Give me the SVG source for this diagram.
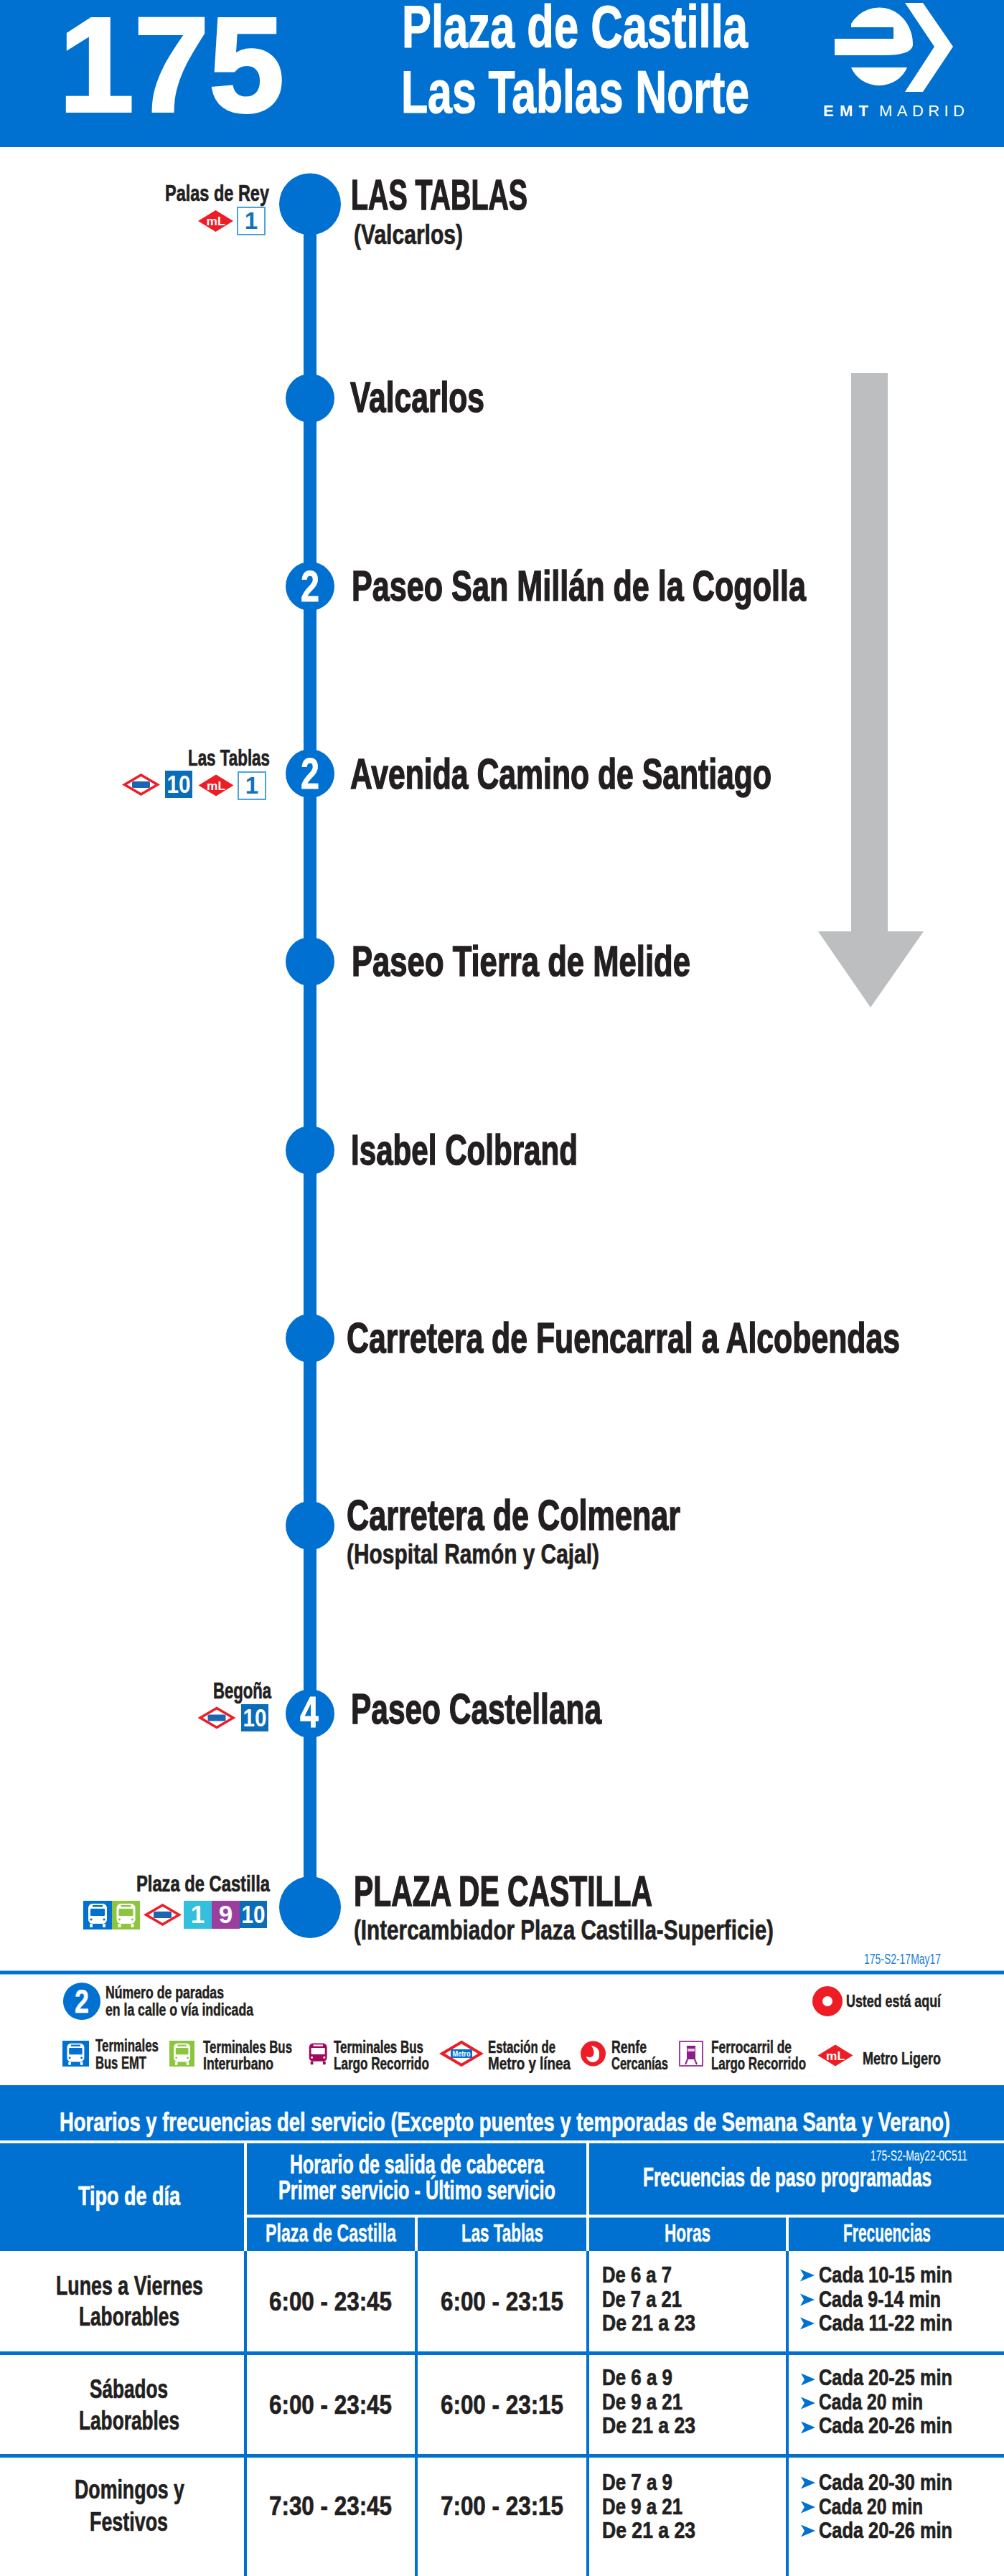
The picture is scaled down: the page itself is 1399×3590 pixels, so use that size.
<svg xmlns="http://www.w3.org/2000/svg" width="1399" height="3590" viewBox="0 0 1399 3590">
<style>
text{font-family:"Liberation Sans",Arial,sans-serif;font-weight:700;fill:#231f20;stroke:#231f20;stroke-width:.5}
.w{fill:#fff;stroke:#fff}
.f188{font-size:188px;stroke-width:4}.f84{font-size:84px;stroke-width:1.2}.f60{font-size:60px;stroke-width:1.5}.f38{font-size:38px;stroke-width:.7}.f62{font-size:62px;stroke-width:.8}
.f30{font-size:31px;stroke-width:.7}.f22{font-size:24px;stroke-width:.5}.f36{font-size:37px;stroke-width:.7}.f34{font-size:35px;stroke-width:.4}.f28{font-size:32px;stroke-width:.7}
.tag{font-size:20px;font-weight:400;stroke:none}
.route{stroke:#0070d1;stroke-width:18;fill:none}
.dot{fill:#0070d1}
.vb{stroke:#0070d1;stroke-width:4}.hb{stroke:#0070d1;stroke-width:5}.vw{stroke:#fff;stroke-width:4}
.box{fill:#fff;stroke:#4da3dc;stroke-width:2}
.digit{font-size:32px;fill:#fff;stroke:none;text-anchor:middle}
</style>
<defs>
<g id="metro"><path d="M-23 0L0-13.5 23 0 0 13.5Z" fill="#fff" stroke="#ee1c25" stroke-width="3.5"/><rect x="-12.5" y="-4.500" width="25" height="9" rx="1.500" fill="#1b66b3"/></g>
<g id="ml"><path d="M-24.500 0L0-15 24.500 0 0 15Z" fill="#ee1c25"/><text x="-13" y="6" font-size="17" class="w" style="stroke:none" textLength="26" lengthAdjust="spacingAndGlyphs">mL</text></g>
<g id="bus"><rect x="7" y="4" width="26" height="28" rx="6"/><rect x="9" y="32" width="4" height="5" rx="1"/><rect x="27" y="32" width="4" height="5" rx="1"/><rect x="10" y="11" width="20" height="10" rx="1" fill="currentColor"/><rect x="13" y="6" width="14" height="2.500" fill="currentColor"/><circle cx="11" cy="26" r="1.600" fill="currentColor"/><circle cx="29" cy="26" r="1.600" fill="currentColor"/></g>
<g id="line1"><rect x="0" y="0" width="38" height="38" class="box"/><text x="19" y="30" class="digit" style="fill:#1272b8;font-size:33px">1</text></g>
<g id="line10"><rect x="0" y="0" width="38" height="38" fill="#0b6db8"/><text x="19" y="31" class="digit" textLength="33" lengthAdjust="spacingAndGlyphs" style="font-size:35px">10</text></g>
<path id="arr" d="M0-8.500L20 0 0 8.500 5 0Z" fill="#0070d1"/>
</defs>
<rect width="1399" height="3590" fill="#fff"/>

<g id="header">
<rect width="1399" height="205" fill="#0070d1"/>
<text x="82" y="155" class="w f188" textLength="314" lengthAdjust="spacingAndGlyphs">175</text>
<text x="560" y="66" class="w f84" textLength="482" lengthAdjust="spacingAndGlyphs">Plaza de Castilla</text>
<text x="559" y="157" class="w f84" textLength="485" lengthAdjust="spacingAndGlyphs">Las Tablas Norte</text>
<g id="logo" fill="#fff">
<path d="M1261 4H1286L1328 65 1286 128H1261L1302 65Z"/>
<path d="M1186 33A47 51 0 0 1 1272 63Q1270 77 1232 77H1163V54H1245V38H1186Z"/>
<path d="M1186 94H1264A42 40 0 0 1 1186 94Z"/>
<text x="1147" y="162" font-size="22" class="w" style="stroke:none" textLength="63" lengthAdjust="spacing">EMT</text>
<text x="1225" y="162" font-size="22" class="w" style="font-weight:400;stroke:none" textLength="119" lengthAdjust="spacing">MADRID</text>
</g>
</g>

<g id="connectors">
<line class="route" x1="432" y1="284" x2="432" y2="2658"/>
<path id="direction-arrow" d="M1186 520H1237V1298H1287L1213 1404 1140 1298H1186Z" fill="#bcbec0"/>
</g>

<g id="stop-las-tablas">
<circle class="dot" cx="432" cy="284.500" r="43"/>
<text x="489" y="292" class="f60" textLength="246" lengthAdjust="spacingAndGlyphs">LAS TABLAS</text>
<text x="493" y="340" class="f38" textLength="152" lengthAdjust="spacingAndGlyphs">(Valcarlos)</text>
<text x="230" y="280" class="f30" textLength="145" lengthAdjust="spacingAndGlyphs">Palas de Rey</text>
<use href="#ml" transform="translate(300.500 308)"/>
<use href="#line1" transform="translate(331 289)"/>
</g>
<g id="stop-valcarlos">
<circle class="dot" cx="432" cy="555" r="34"/>
<text x="488" y="574" class="f60" textLength="187" lengthAdjust="spacingAndGlyphs">Valcarlos</text>
</g>
<g id="stop-san-millan">
<circle class="dot" cx="432" cy="817" r="34"/>
<text x="432" y="838" class="w f62" text-anchor="middle" textLength="26" lengthAdjust="spacingAndGlyphs">2</text>
<text x="490" y="837" class="f60" textLength="633" lengthAdjust="spacingAndGlyphs">Paseo San Millán de la Cogolla</text>
</g>
<g id="stop-camino-santiago">
<circle class="dot" cx="432" cy="1078" r="34"/>
<text x="432" y="1099" class="w f62" text-anchor="middle" textLength="26" lengthAdjust="spacingAndGlyphs">2</text>
<text x="488" y="1099" class="f60" textLength="587" lengthAdjust="spacingAndGlyphs">Avenida Camino de Santiago</text>
<text x="262" y="1067" class="f30" textLength="114" lengthAdjust="spacingAndGlyphs">Las Tablas</text>
<use href="#metro" transform="translate(196.500 1093.500)"/>
<use href="#line10" transform="translate(230 1074)"/>
<use href="#ml" transform="translate(301 1094.500)"/>
<use href="#line1" transform="translate(332 1076)"/>
</g>
<g id="stop-tierra-melide">
<circle class="dot" cx="432" cy="1340" r="34"/>
<text x="490" y="1360" class="f60" textLength="472" lengthAdjust="spacingAndGlyphs">Paseo Tierra de Melide</text>
</g>
<g id="stop-isabel-colbrand">
<circle class="dot" cx="432" cy="1603" r="34"/>
<text x="489" y="1623" class="f60" textLength="316" lengthAdjust="spacingAndGlyphs">Isabel Colbrand</text>
</g>
<g id="stop-fuencarral">
<circle class="dot" cx="432" cy="1865" r="34"/>
<text x="483" y="1885" class="f60" textLength="771" lengthAdjust="spacingAndGlyphs">Carretera de Fuencarral a Alcobendas</text>
</g>
<g id="stop-colmenar">
<circle class="dot" cx="432" cy="2126" r="34"/>
<text x="483" y="2132" class="f60" textLength="465" lengthAdjust="spacingAndGlyphs">Carretera de Colmenar</text>
<text x="483" y="2179" class="f38" textLength="352" lengthAdjust="spacingAndGlyphs">(Hospital Ramón y Cajal)</text>
</g>
<g id="stop-castellana">
<circle class="dot" cx="432" cy="2388" r="34"/>
<text x="431" y="2407" class="w f62" text-anchor="middle" textLength="26" lengthAdjust="spacingAndGlyphs">4</text>
<text x="489" y="2402" class="f60" textLength="349" lengthAdjust="spacingAndGlyphs">Paseo Castellana</text>
<text x="297" y="2367" class="f30" textLength="81" lengthAdjust="spacingAndGlyphs">Begoña</text>
<use href="#metro" transform="translate(302 2394)"/>
<use href="#line10" transform="translate(336 2375)"/>
</g>
<g id="stop-plaza-castilla">
<circle class="dot" cx="432" cy="2658" r="43"/>
<text x="493" y="2656" class="f60" textLength="416" lengthAdjust="spacingAndGlyphs">PLAZA DE CASTILLA</text>
<text x="493" y="2703" class="f38" textLength="585" lengthAdjust="spacingAndGlyphs">(Intercambiador Plaza Castilla-Superficie)</text>
<text x="190" y="2636" class="f30" textLength="186" lengthAdjust="spacingAndGlyphs">Plaza de Castilla</text>
<rect x="116" y="2649" width="40" height="40" fill="#0070d1"/>
<use href="#bus" transform="translate(116 2649)" fill="#fff" color="#0070d1"/>
<rect x="156" y="2649" width="39" height="40" fill="#8cc63f"/>
<use href="#bus" transform="translate(155.500 2649)" fill="#fff" color="#8cc63f"/>
<use href="#metro" transform="translate(226.500 2668.500)"/>
<rect x="256" y="2649" width="39" height="39" fill="#33c0dc"/>
<text x="275.500" y="2680" class="digit" style="font-size:35px">1</text>
<rect x="295" y="2649" width="39" height="39" fill="#9b3f9f"/>
<text x="314.500" y="2680" class="digit" style="font-size:35px">9</text>
<use href="#line10" transform="translate(334 2649)"/>
</g>

<g id="legend">
<text x="1204" y="2737" class="tag" style="fill:#1b7fd4" textLength="107" lengthAdjust="spacingAndGlyphs">175-S2-17May17</text>
<line class="hb" x1="0" y1="2749" x2="1399" y2="2749"/>
<g id="legend-stops">
<circle class="dot" cx="114" cy="2789" r="26"/>
<text x="114" y="2805" class="w" font-size="46" text-anchor="middle" textLength="20" lengthAdjust="spacingAndGlyphs">2</text>
<text x="147" y="2785" class="f22" textLength="165" lengthAdjust="spacingAndGlyphs">Número de paradas</text>
<text x="147" y="2809" class="f22" textLength="206" lengthAdjust="spacingAndGlyphs">en la calle o vía indicada</text>
</g>
<g id="legend-here">
<circle cx="1153" cy="2789" r="14" fill="#fff" stroke="#ee1c25" stroke-width="14"/>
<text x="1179" y="2797" class="f22" textLength="132" lengthAdjust="spacingAndGlyphs">Usted está aquí</text>
</g>
<g id="legend-emt">
<rect x="87" y="2844" width="37" height="36" fill="#0070d1"/>
<use href="#bus" transform="translate(87 2844) scale(.92)" fill="#fff" color="#0070d1"/>
<text x="133" y="2859" class="f22" textLength="88" lengthAdjust="spacingAndGlyphs">Terminales</text>
<text x="133" y="2883" class="f22" textLength="71" lengthAdjust="spacingAndGlyphs">Bus EMT</text>
</g>
<g id="legend-interurban">
<rect x="236" y="2844" width="35" height="36" fill="#8cc63f"/>
<use href="#bus" transform="translate(236 2844) scale(.88 .92)" fill="#fff" color="#8cc63f"/>
<text x="283" y="2861" class="f22" textLength="124" lengthAdjust="spacingAndGlyphs">Terminales Bus</text>
<text x="283" y="2884" class="f22" textLength="98" lengthAdjust="spacingAndGlyphs">Interurbano</text>
</g>
<g id="legend-long">
<use href="#bus" transform="translate(424 2844) scale(.96 .9)" fill="#a3085f" color="#fff"/>
<text x="465" y="2861" class="f22" textLength="125" lengthAdjust="spacingAndGlyphs">Terminales Bus</text>
<text x="465" y="2884" class="f22" textLength="133" lengthAdjust="spacingAndGlyphs">Largo Recorrido</text>
</g>
<g id="legend-metro">
<path d="M643 2846L670 2862 643 2878 616 2862Z" fill="#fff" stroke="#ee1c25" stroke-width="4"/>
<rect x="628" y="2856" width="30" height="12" rx="1.500" fill="#0070d1"/>
<text x="643" y="2866" class="w" font-size="11" style="stroke:none" text-anchor="middle" textLength="25" lengthAdjust="spacingAndGlyphs">Metro</text>
<text x="680" y="2861" class="f22" textLength="94" lengthAdjust="spacingAndGlyphs">Estación de</text>
<text x="680" y="2884" class="f22" textLength="115" lengthAdjust="spacingAndGlyphs">Metro y línea</text>
</g>
<g id="legend-renfe">
<circle cx="826.500" cy="2862" r="17.500" fill="#ee1c25"/>
<path d="M824 2851Q836 2853 835 2864A9 9 0 0 1 817 2866Q824 2869 827 2864 829 2858 824 2851Z" fill="#fff"/>
<text x="852" y="2861" class="f22" textLength="49" lengthAdjust="spacingAndGlyphs">Renfe</text>
<text x="852" y="2884" class="f22" textLength="79" lengthAdjust="spacingAndGlyphs">Cercanías</text>
</g>
<g id="legend-rail">
<rect x="947" y="2845" width="32" height="34" fill="#fff" stroke="#a1419c" stroke-width="2"/>
<path d="M957 2851H969V2870H957Z" fill="#8b1e8b"/>
<path d="M958 2855H968V2859H958Z" fill="#e6c7e6"/>
<path d="M958 2870L955 2877M968 2870L971 2877" stroke="#8b1e8b" stroke-width="2"/>
<text x="991" y="2861" class="f22" textLength="112" lengthAdjust="spacingAndGlyphs">Ferrocarril de</text>
<text x="991" y="2884" class="f22" textLength="132" lengthAdjust="spacingAndGlyphs">Largo Recorrido</text>
</g>
<g id="legend-ml">
<use href="#ml" transform="translate(1164 2864.500)"/>
<text x="1202" y="2877" class="f22" textLength="109" lengthAdjust="spacingAndGlyphs">Metro Ligero</text>
</g>
</g>

<g id="table">
<rect x="0" y="2906" width="1399" height="231" fill="#0070d1"/>
<line class="vw" x1="0" y1="2985" x2="1399" y2="2985"/>
<line class="vw" x1="342" y1="2985" x2="342" y2="3137"/>
<line class="vw" x1="342" y1="3088.500" x2="1399" y2="3088.500"/>
<line class="vw" x1="819" y1="2985" x2="819" y2="3137"/>
<line class="vw" x1="580" y1="3088" x2="580" y2="3137"/>
<line class="vw" x1="1097" y1="3088" x2="1097" y2="3137"/>
<text x="83" y="2970" class="w f36" textLength="1241" lengthAdjust="spacingAndGlyphs">Horarios y frecuencias del servicio (Excepto puentes y temporadas de Semana Santa y Verano)</text>
<text x="109" y="3073" class="w f36" textLength="142" lengthAdjust="spacingAndGlyphs">Tipo de día</text>
<text x="404" y="3029" class="w f36" textLength="354" lengthAdjust="spacingAndGlyphs">Horario de salida de cabecera</text>
<text x="388" y="3065" class="w f36" textLength="386" lengthAdjust="spacingAndGlyphs">Primer servicio - Último servicio</text>
<text x="896" y="3047" class="w f36" textLength="402" lengthAdjust="spacingAndGlyphs">Frecuencias de paso programadas</text>
<text x="1213" y="3011" class="w tag" textLength="135" lengthAdjust="spacingAndGlyphs">175-S2-May22-0C511</text>
<text x="370" y="3124" class="w f34" textLength="182" lengthAdjust="spacingAndGlyphs">Plaza de Castilla</text>
<text x="643" y="3124" class="w f34" textLength="114" lengthAdjust="spacingAndGlyphs">Las Tablas</text>
<text x="926" y="3124" class="w f34" textLength="64" lengthAdjust="spacingAndGlyphs">Horas</text>
<text x="1175" y="3124" class="w f34" textLength="122" lengthAdjust="spacingAndGlyphs">Frecuencias</text>

<line class="vb" x1="342" y1="3137" x2="342" y2="3590"/>
<line class="vb" x1="580" y1="3137" x2="580" y2="3590"/>
<line class="vb" x1="819" y1="3137" x2="819" y2="3590"/>
<line class="vb" x1="1097" y1="3137" x2="1097" y2="3590"/>
<line class="hb" x1="0" y1="3279.500" x2="1399" y2="3279.500"/>
<line class="hb" x1="0" y1="3422.500" x2="1399" y2="3422.500"/>

<g id="row-weekday">
<text x="78" y="3198" class="f36" textLength="205" lengthAdjust="spacingAndGlyphs">Lunes a Viernes</text>
<text x="110" y="3241" class="f36" textLength="140" lengthAdjust="spacingAndGlyphs">Laborables</text>
<text x="375" y="3220" class="f36" textLength="171" lengthAdjust="spacingAndGlyphs">6:00 - 23:45</text>
<text x="614" y="3220" class="f36" textLength="171" lengthAdjust="spacingAndGlyphs">6:00 - 23:15</text>
<text x="839" y="3181" class="f28" textLength="97" lengthAdjust="spacingAndGlyphs">De 6 a 7</text>
<text x="839" y="3215" class="f28" textLength="111" lengthAdjust="spacingAndGlyphs">De 7 a 21</text>
<text x="839" y="3248" class="f28" textLength="130" lengthAdjust="spacingAndGlyphs">De 21 a 23</text>
<use href="#arr" x="1115" y="3171"/><use href="#arr" x="1115" y="3205"/><use href="#arr" x="1115" y="3238"/>
<text x="1141" y="3181" class="f28" textLength="186" lengthAdjust="spacingAndGlyphs">Cada 10-15 min</text>
<text x="1141" y="3215" class="f28" textLength="170" lengthAdjust="spacingAndGlyphs">Cada 9-14 min</text>
<text x="1141" y="3248" class="f28" textLength="186" lengthAdjust="spacingAndGlyphs">Cada 11-22 min</text>
</g>
<g id="row-saturday">
<text x="125" y="3342" class="f36" textLength="109" lengthAdjust="spacingAndGlyphs">Sábados</text>
<text x="110" y="3386" class="f36" textLength="140" lengthAdjust="spacingAndGlyphs">Laborables</text>
<text x="375" y="3364" class="f36" textLength="171" lengthAdjust="spacingAndGlyphs">6:00 - 23:45</text>
<text x="614" y="3364" class="f36" textLength="171" lengthAdjust="spacingAndGlyphs">6:00 - 23:15</text>
<text x="839" y="3324" class="f28" textLength="98" lengthAdjust="spacingAndGlyphs">De 6 a 9</text>
<text x="839" y="3358" class="f28" textLength="112" lengthAdjust="spacingAndGlyphs">De 9 a 21</text>
<text x="839" y="3391" class="f28" textLength="130" lengthAdjust="spacingAndGlyphs">De 21 a 23</text>
<use href="#arr" x="1116" y="3316"/><use href="#arr" x="1116" y="3349"/><use href="#arr" x="1116" y="3383"/>
<text x="1141" y="3324" class="f28" textLength="186" lengthAdjust="spacingAndGlyphs">Cada 20-25 min</text>
<text x="1141" y="3358" class="f28" textLength="145" lengthAdjust="spacingAndGlyphs">Cada 20 min</text>
<text x="1141" y="3391" class="f28" textLength="186" lengthAdjust="spacingAndGlyphs">Cada 20-26 min</text>
</g>
<g id="row-sunday">
<text x="104" y="3482" class="f36" textLength="153" lengthAdjust="spacingAndGlyphs">Domingos y</text>
<text x="125" y="3527" class="f36" textLength="109" lengthAdjust="spacingAndGlyphs">Festivos</text>
<text x="375" y="3505" class="f36" textLength="171" lengthAdjust="spacingAndGlyphs">7:30 - 23:45</text>
<text x="614" y="3505" class="f36" textLength="171" lengthAdjust="spacingAndGlyphs">7:00 - 23:15</text>
<text x="839" y="3470" class="f28" textLength="98" lengthAdjust="spacingAndGlyphs">De 7 a 9</text>
<text x="839" y="3504" class="f28" textLength="112" lengthAdjust="spacingAndGlyphs">De 9 a 21</text>
<text x="839" y="3537" class="f28" textLength="130" lengthAdjust="spacingAndGlyphs">De 21 a 23</text>
<use href="#arr" x="1116" y="3460"/><use href="#arr" x="1116" y="3494"/><use href="#arr" x="1116" y="3527"/>
<text x="1141" y="3470" class="f28" textLength="186" lengthAdjust="spacingAndGlyphs">Cada 20-30 min</text>
<text x="1141" y="3504" class="f28" textLength="145" lengthAdjust="spacingAndGlyphs">Cada 20 min</text>
<text x="1141" y="3537" class="f28" textLength="186" lengthAdjust="spacingAndGlyphs">Cada 20-26 min</text>
</g>
</g>
</svg>
